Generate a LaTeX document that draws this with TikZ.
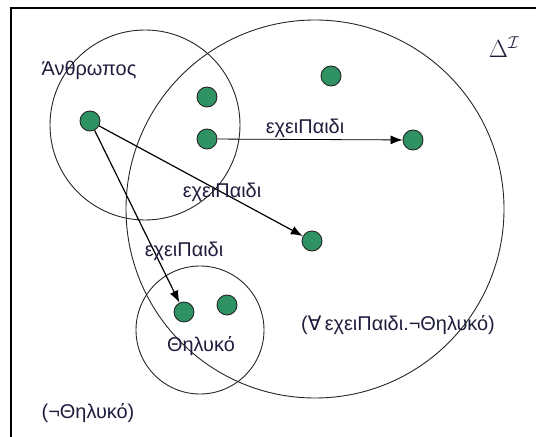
\documentclass[tikz,border=0pt]{standalone}
\usepackage{fontspec}
\setmainfont{Liberation Sans}
\newfontfamily\symfont{DejaVu Sans}
\usepackage{xcolor}
\usetikzlibrary{arrows.meta, positioning}
\definecolor{dotGreen}{RGB}{46,146,98}
\definecolor{txtNavy}{RGB}{30,30,60}

\begin{document}
\begin{tikzpicture}[
    x=1bp, y=-1bp,
    font=\fontsize{20}{24}\selectfont, text=txtNavy,
    dot/.style={circle, draw=black!85, fill=dotGreen, minimum size=20bp,
                inner sep=0pt, line width=0.9bp},
    setring/.style={draw=black!85, line width=0.9bp},
    rel/.style={-{Latex[length=12bp, width=9bp]}, line width=1.2bp},
    lbl/.style={inner sep=1bp}
]
\useasboundingbox (0,0) rectangle (536,437);
% frame
\draw[line width=1.5bp] (11,437) -- (11,8) -- (536,8);
% sets
\draw[setring] (315,209) circle[radius=189];
\draw[setring] (145,125) circle[radius=95];
\draw[setring] (200,330) circle[radius=64];
% elements
\node[dot] (p1) at (90,121) {};
\node[dot] (p2) at (207,97) {};
\node[dot] (p3) at (207,139) {};
\node[dot] (c1) at (331,76) {};
\node[dot] (c2) at (413,140) {};
\node[dot] (c3) at (312,241) {};
\node[dot] (f1) at (184,312) {};
\node[dot] (f2) at (227,305) {};
% roles
\draw[rel, line width=0.8bp] (p3) -- (c2) node[lbl, midway, above, xshift=-5bp] (r1) {εχειΠαιδι};
\draw[rel] (p1) -- (c3);
\draw[rel] (p1) -- (f1);
\node[lbl] (r2) at (222,192) {εχειΠαιδι};
\node[lbl] (r3) at (184,251) {εχειΠαιδι};
% concept labels
\node[lbl] (man) at (89,70) {Άνθρωπος};
\node[lbl] (fem) at (201,346) {Θηλυκό};
\node[lbl] (all) at (398,325) {({\symfont ∀}\,εχειΠαιδι.¬Θηλυκό)};
\node[lbl] (nfem) at (88,413) {(¬Θηλυκό)};
\node[lbl, font=\fontsize{24}{28}\selectfont] (dom) at (504,47) {$\Delta^{\mathcal{I}}$};
\end{tikzpicture}
\end{document}
